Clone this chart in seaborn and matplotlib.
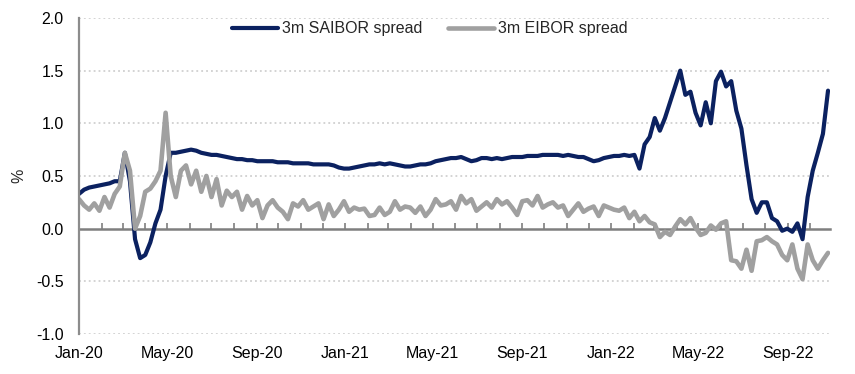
import numpy as np
import pandas as pd
import matplotlib
matplotlib.use("Agg")
import matplotlib.pyplot as plt
import matplotlib.dates as mdates
import seaborn as sns

# weekly observations, starting 1 Jan 2020
start_date = "2020-01-01"

saibor_spread = [
    0.33, 0.37, 0.39, 0.40, 0.41, 0.42, 0.43, 0.45, 0.45, 0.72,
    0.45, -0.10, -0.28, -0.25, -0.13, 0.05, 0.18, 0.50, 0.72, 0.72,
    0.73, 0.74, 0.75, 0.74, 0.72, 0.71, 0.70, 0.70, 0.69, 0.68,
    0.67, 0.66, 0.66, 0.65, 0.65, 0.64, 0.64, 0.64, 0.64, 0.63,
    0.63, 0.63, 0.62, 0.62, 0.62, 0.62, 0.61, 0.61, 0.61, 0.61,
    0.60, 0.58, 0.57, 0.57, 0.58, 0.59, 0.60, 0.61, 0.61, 0.62,
    0.61, 0.62, 0.61, 0.60, 0.59, 0.59, 0.60, 0.61, 0.61, 0.62,
    0.64, 0.65, 0.66, 0.67, 0.67, 0.68, 0.66, 0.64, 0.65, 0.67,
    0.67, 0.66, 0.67, 0.66, 0.67, 0.68, 0.68, 0.68, 0.69, 0.69,
    0.69, 0.70, 0.70, 0.70, 0.70, 0.69, 0.70, 0.69, 0.68, 0.68,
    0.66, 0.64, 0.65, 0.67, 0.68, 0.69, 0.69, 0.70, 0.69, 0.70,
    0.57, 0.80, 0.87, 1.05, 0.93, 1.05, 1.20, 1.35, 1.50, 1.27,
    1.30, 1.10, 0.98, 1.20, 1.00, 1.40, 1.49, 1.35, 1.40, 1.12,
    0.95, 0.60, 0.28, 0.15, 0.25, 0.25, 0.10, 0.07, -0.02, 0.00,
    -0.03, 0.05, -0.10, 0.30, 0.55, 0.72, 0.90, 1.31,
]

eibor_spread = [
    0.28, 0.22, 0.18, 0.24, 0.17, 0.30, 0.20, 0.33, 0.40, 0.72,
    0.55, 0.00, 0.12, 0.35, 0.38, 0.45, 0.55, 1.10, 0.50, 0.30,
    0.55, 0.60, 0.42, 0.55, 0.35, 0.50, 0.30, 0.47, 0.22, 0.36,
    0.30, 0.35, 0.18, 0.31, 0.22, 0.27, 0.10, 0.22, 0.27, 0.20,
    0.16, 0.09, 0.24, 0.21, 0.27, 0.18, 0.21, 0.24, 0.09, 0.23,
    0.12, 0.18, 0.26, 0.16, 0.20, 0.18, 0.19, 0.12, 0.13, 0.20,
    0.13, 0.16, 0.26, 0.18, 0.21, 0.20, 0.15, 0.21, 0.12, 0.18,
    0.28, 0.22, 0.23, 0.26, 0.18, 0.31, 0.24, 0.28, 0.17, 0.21,
    0.25, 0.20, 0.28, 0.23, 0.26, 0.20, 0.13, 0.26, 0.27, 0.22,
    0.31, 0.20, 0.23, 0.25, 0.20, 0.22, 0.12, 0.18, 0.24, 0.16,
    0.19, 0.21, 0.12, 0.22, 0.20, 0.18, 0.17, 0.20, 0.10, 0.16,
    0.07, 0.12, 0.06, 0.04, -0.08, -0.03, -0.06, 0.02, 0.09, 0.04,
    0.10, 0.01, -0.06, -0.04, 0.03, -0.01, 0.05, 0.07, -0.30, -0.31,
    -0.38, -0.20, -0.40, -0.12, -0.11, -0.08, -0.12, -0.15, -0.25, -0.30,
    -0.15, -0.38, -0.48, -0.15, -0.30, -0.38, -0.30, -0.23,
]

series_names = ["3m SAIBOR spread", "3m EIBOR spread"]
y_ticks = [-1.0, -0.5, 0.0, 0.5, 1.0, 1.5, 2.0]

dates = pd.date_range(start_date, periods=len(saibor_spread), freq="7D")
df = pd.DataFrame({"date": dates, series_names[0]: saibor_spread, series_names[1]: eibor_spread})

sns.set_style("white")
plt.rcParams["font.family"] = ["Liberation Sans", "DejaVu Sans"]

fig = plt.figure(figsize=(8.55, 3.74), dpi=100)
ax = fig.add_axes([0.0924, 0.107, 0.8786, 0.845])

sns.lineplot(data=df, x="date", y=series_names[0], ax=ax, color="#0b2160", lw=3.0, label=series_names[0])
sns.lineplot(data=df, x="date", y=series_names[1], ax=ax, color="#a0a0a0", lw=3.3, label=series_names[1])

ax.set_ylim(-1.0, 2.0)
ax.set_xlim(pd.Timestamp("2020-01-01"), pd.Timestamp("2022-10-29"))
ax.set_yticks(y_ticks)
ax.set_yticklabels([f"{v:.1f}" for v in y_ticks])
for v in y_ticks:
    if v != 0:
        ax.axhline(v, color="#c8c8c8", lw=1.1, ls=(0, (1.2, 2.0)), zorder=0)

ax.xaxis.set_major_locator(mdates.MonthLocator(bymonth=[1, 5, 9]))
ax.xaxis.set_major_formatter(mdates.DateFormatter("%b-%y"))
ax.tick_params(axis="x", length=0, pad=9, labelsize=11.5, colors="black")
ax.tick_params(axis="y", length=0, pad=11, labelsize=11.5, colors="black")

for side in ["top", "right", "bottom"]:
    ax.spines[side].set_visible(False)
ax.spines["left"].set_color("#8c8c8c")
ax.spines["left"].set_linewidth(1.6)

# zero line with monthly tick marks
zero_axis = ax.secondary_xaxis(1 / 3)
zero_axis.xaxis.set_major_locator(mdates.MonthLocator())
zero_axis.tick_params(axis="x", direction="in", length=4, width=1.2, color="#7f7f7f", labelbottom=False)
zero_axis.spines["bottom"].set_color("#7f7f7f")
zero_axis.spines["bottom"].set_linewidth(1.8)

ax.set_xlabel("")
ax.set_ylabel("%", fontsize=11.5, labelpad=7)

ax.legend(loc="upper center", bbox_to_anchor=(0.467, 1.035), ncol=2, frameon=False,
          fontsize=11.5, handlelength=2.9, handletextpad=0.25, columnspacing=1.6)

fig.savefig("out.png", dpi=100)
